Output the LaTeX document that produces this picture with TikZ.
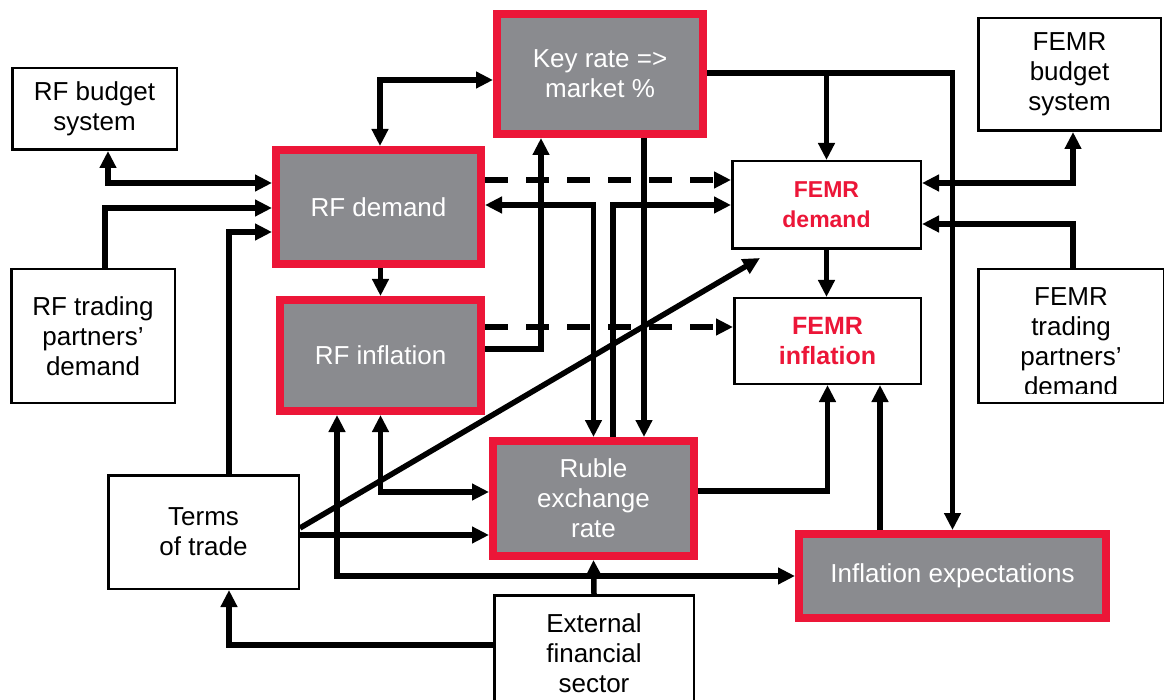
\documentclass[tikz,border=0pt]{standalone}
\usepackage{fontspec}
\setmainfont{Liberation Sans}
\usetikzlibrary{arrows.meta}

\definecolor{boxred}{RGB}{236,22,56}
\definecolor{boxgray}{RGB}{138,139,143}

\tikzset{
  redbox/.style={draw=boxred, line width=8pt, fill=boxgray, text=white,
    align=center, inner sep=0pt, font=\fontsize{26}{30}\selectfont},
  plainbox/.style={draw, line width=2.5pt, fill=white,
    align=center, inner sep=0pt, font=\fontsize{26}{30}\selectfont},
  femrbox/.style={plainbox, text=boxred, font=\bfseries\fontsize{23}{30}\selectfont},
  link/.style={line width=5.5pt},
  dashline/.style={link, dash pattern=on 23pt off 18pt},
}

\begin{document}
\begin{tikzpicture}[x=1pt, y=-1pt, >={Triangle[length=17pt,width=16pt]}]
  \useasboundingbox (0,0) rectangle (1164,700);

% left column
\node[plainbox, minimum width=164.5pt, minimum height=81.5pt] (rfbud) at (94.5,109) {RF budget\\system};
\node[plainbox, minimum width=163.5pt, minimum height=133.5pt] (rftrade) at (93,336) {RF trading\\partners’\\demand};
\node[plainbox, minimum width=190.5pt, minimum height=113.5pt] (terms) at (203.5,532) {Terms\\of trade};

% red boxes
\node[redbox, minimum width=206pt, minimum height=120pt] (keyrate) at (600,74) {Key rate =>\\market \%};
\node[redbox, minimum width=205pt, minimum height=114pt] (rfdem) at (378.5,207) {RF demand};
\node[redbox, minimum width=201pt, minimum height=111pt] (rfinf) at (380.5,355.5) {RF inflation};
\node[redbox, minimum width=201pt, minimum height=115pt] (ruble) at (593.5,498.5) {Ruble\\exchange\\rate};
\node[redbox, minimum width=307pt, minimum height=84pt] (inflexp) at (952.5,576) {Inflation expectations};
\node[plainbox, minimum width=199.5pt, minimum height=115.5pt] (ext) at (594,653) {External\\financial\\sector};

% FEMR side
\node[femrbox, minimum width=188.5pt, minimum height=87.5pt] (femrdem) at (826.5,205) {FEMR\\demand};
\node[femrbox, minimum width=186.5pt, minimum height=85.5pt, font=\bfseries\fontsize{25}{30}\selectfont] (femrinf) at (827.5,341) {FEMR\\inflation};
\node[plainbox, minimum width=182.5pt, minimum height=112.5pt] (femrbud) at (1069.5,74.5) {FEMR\\budget\\system};
\node[plainbox, minimum width=185.5pt, minimum height=133.5pt] (femrtrade) at (1071,336) {};
\begin{scope}
  \clip (femrtrade.north west) rectangle ([yshift=11pt]femrtrade.south east);
  \node[align=center, font=\fontsize{26}{30}\selectfont] (femrtradetext) at ([yshift=-6pt]femrtrade.center) {FEMR\\trading\\partners’\\demand};
\end{scope}

% RF links
\draw[link,<->] ([xshift=1.5pt]rfdem.north) |- ([yshift=-6pt]keyrate.west);
\draw[link,<->] ([xshift=13.5pt]rfbud.south) |- ([yshift=24pt]rfdem.west);
\draw[link,->] ([xshift=12pt]rftrade.north) |- ([yshift=-1pt]rfdem.west);
\draw[link,->] ([xshift=25.5pt]terms.north) |- ([yshift=-25pt]rfdem.west);
\draw[link,->] (rfdem.south -| rfinf.north) -- (rfinf.north);
\draw[link,->] ([yshift=6.5pt]rfinf.east) -| ([xshift=-59pt]keyrate.south);

% dashed links to FEMR
\draw[dashline,->] ([yshift=27pt]rfdem.east) -- ([yshift=27pt]rfdem.east -| femrdem.west);
\draw[dashline,->] ([yshift=28.5pt]rfinf.east) -- ([yshift=28.5pt]rfinf.east -| femrinf.west);

% ruble links
\draw[link,<->] ([yshift=2pt]rfdem.east) -| (ruble.north);
\draw[link,->] ([xshift=19.5pt]ruble.north) |- (femrdem.west);
\draw[link,->] ([xshift=44pt]keyrate.south) -- ([xshift=44pt]keyrate.south |- ruble.north);
\draw[link,->] ([yshift=7.5pt]ruble.east) -| (femrinf.south);
\draw[link,<->] (rfinf.south) |- ([yshift=6.5pt]ruble.west);
\draw[link,<->] ([xshift=-43.5pt]rfinf.south) |- (inflexp.west);
\draw[link,->] (ext.north) -- (ruble.south);
\draw[link,->] ([yshift=8pt]ext.west) -| ([xshift=25.5pt]terms.south);

% terms of trade
\draw[link,->] ([yshift=4pt]terms.east) -- ([xshift=29pt,yshift=-8pt]femrdem.south west);
\draw[link,->] ([yshift=-3pt]terms.east) -- ([yshift=-3pt]terms.east -| ruble.west);

% key rate to FEMR
\draw[link,->] ([yshift=1pt]keyrate.east) -| (inflexp.north);
\draw[link,->] ([yshift=1pt]keyrate.east -| femrdem.north) -- (femrdem.north);
\draw[link,->] (femrdem.south) -- (femrdem.south |- femrinf.north);
\draw[link,<->] ([yshift=22pt]femrdem.east) -| ([xshift=3.5pt]femrbud.south);
\draw[link,->] ([xshift=2pt]femrtrade.north) |- ([yshift=-19pt]femrdem.east);
\draw[link,->] ([xshift=52.5pt]femrinf.south |- inflexp.north) -- ([xshift=52.5pt]femrinf.south);
\end{tikzpicture}
\end{document}
